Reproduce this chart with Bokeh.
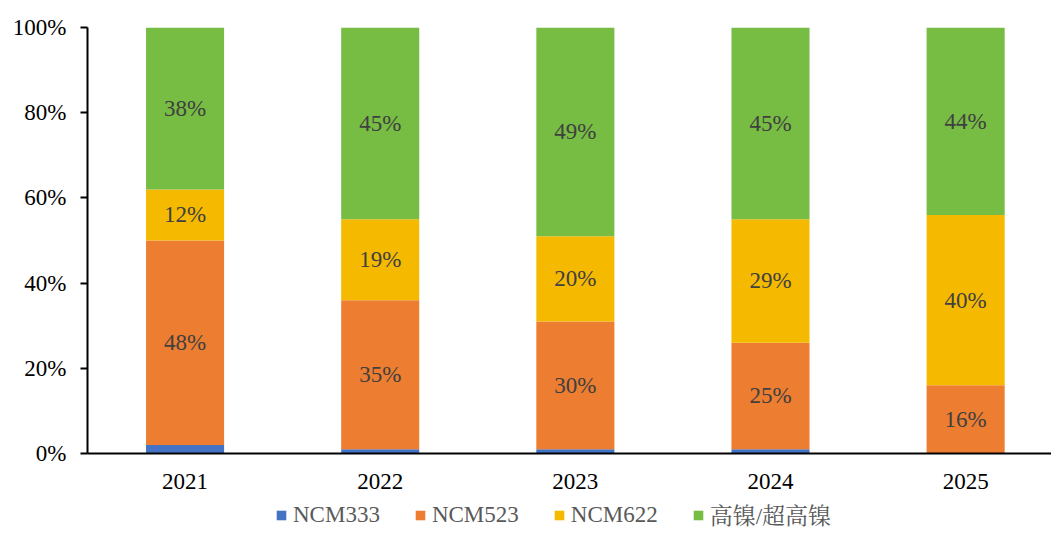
from bokeh.plotting import figure
from bokeh.layouts import column
from bokeh.models import ColumnDataSource, FixedTicker, Legend, LegendItem, NumeralTickFormatter
from bokeh.core.properties import value
from bokeh.embed import file_html
from bokeh.resources import INLINE

years = ["2021", "2022", "2023", "2024", "2025"]
ncm333 = [0.02, 0.01, 0.01, 0.01, 0.00]
ncm523 = [0.48, 0.35, 0.30, 0.25, 0.16]
ncm622 = [0.12, 0.19, 0.20, 0.29, 0.40]
high_ni = [0.38, 0.45, 0.49, 0.45, 0.44]
series_names = ["NCM333", "NCM523", "NCM622", "高镍/超高镍"]
colors = ["#4472C4", "#ED7D31", "#F5BA00", "#77BC43"]

SERIF = "Liberation Serif, Noto Serif CJK SC, Noto Sans CJK SC, serif"
FS = "23px"

xs = list(range(len(years)))
keys = ["ncm333", "ncm523", "ncm622", "high"]
src = ColumnDataSource(dict(x=xs, ncm333=ncm333, ncm523=ncm523, ncm622=ncm622, high=high_ni))

p = figure(width=1051, height=500, x_range=(-0.5, 4.44), y_range=(0, 1),
           output_backend="svg", toolbar_location=None,
           min_border_left=87, min_border_right=0, min_border_top=27, min_border_bottom=47)
p.outline_line_color = None
p.xgrid.visible = False
p.ygrid.visible = False

renderers = p.vbar_stack(keys, x="x", width=0.4, source=src, color=colors, line_color=None)

# segment labels (NCM333 not labelled)
all_series = [ncm333, ncm523, ncm622, high_ni]
lx, ly, lt = [], [], []
for s_idx, arr in enumerate(all_series):
    for i, v in enumerate(arr):
        base = sum(all_series[k][i] for k in range(s_idx))
        if s_idx > 0 and v > 0:
            lx.append(xs[i]); ly.append(base + v / 2); lt.append(f"{round(v * 100)}%")
p.text(x=lx, y=ly, text=lt, text_align="center", text_baseline="middle",
       text_font=value(SERIF), text_font_size=FS, text_color="#404040")

p.xaxis.ticker = FixedTicker(ticks=xs)
p.xaxis.major_label_overrides = {i: y for i, y in enumerate(years)}
p.xaxis.major_tick_line_color = None
p.xaxis.minor_tick_line_color = None
p.xaxis.axis_line_color = "black"
p.xaxis.axis_line_width = 2
p.xaxis.major_label_text_font = SERIF
p.xaxis.major_label_text_font_size = FS
p.xaxis.major_label_text_color = "#000000"
p.xaxis.major_label_standoff = 14

p.yaxis.ticker = FixedTicker(ticks=[0, 0.2, 0.4, 0.6, 0.8, 1.0])
p.yaxis.formatter = NumeralTickFormatter(format="0%")
p.yaxis.minor_tick_line_color = None
p.yaxis.major_tick_in = 0
p.yaxis.major_tick_out = 7
p.yaxis.major_tick_line_width = 2
p.yaxis.axis_line_width = 2
p.yaxis.axis_line_color = "black"
p.yaxis.major_label_text_font = SERIF
p.yaxis.major_label_text_font_size = FS
p.yaxis.major_label_text_color = "#000000"
p.yaxis.major_label_standoff = 14

# legend strip below the chart (frame aligned with the main chart's frame)
p2 = figure(width=1051, height=32, x_range=(0, 1), y_range=(0, 1),
            output_backend="svg", toolbar_location=None,
            x_axis_location=None, y_axis_location=None,
            min_border_left=87, min_border_right=0, min_border_top=0, min_border_bottom=0)
p2.outline_line_color = None
p2.grid.visible = False
hidden = ColumnDataSource(dict(x=[-5.0], top=[-5.0]))
leg_renderers = [p2.vbar(x="x", top="top", bottom=-6.0, width=0.1, source=hidden,
                         color=c, line_color=None) for c in colors]

legend = Legend(items=[LegendItem(label=n, renderers=[r]) for n, r in zip(series_names, leg_renderers)],
                orientation="horizontal", location=(188, 1),
                label_text_font=SERIF, label_text_font_size=FS, label_text_color="#595959",
                glyph_width=12, glyph_height=12, spacing=34, label_standoff=6,
                border_line_color=None, background_fill_alpha=0, margin=0, padding=2)
p2.add_layout(legend, "center")

open("out.html", "w").write(file_html(column(p, p2, spacing=0), INLINE))
